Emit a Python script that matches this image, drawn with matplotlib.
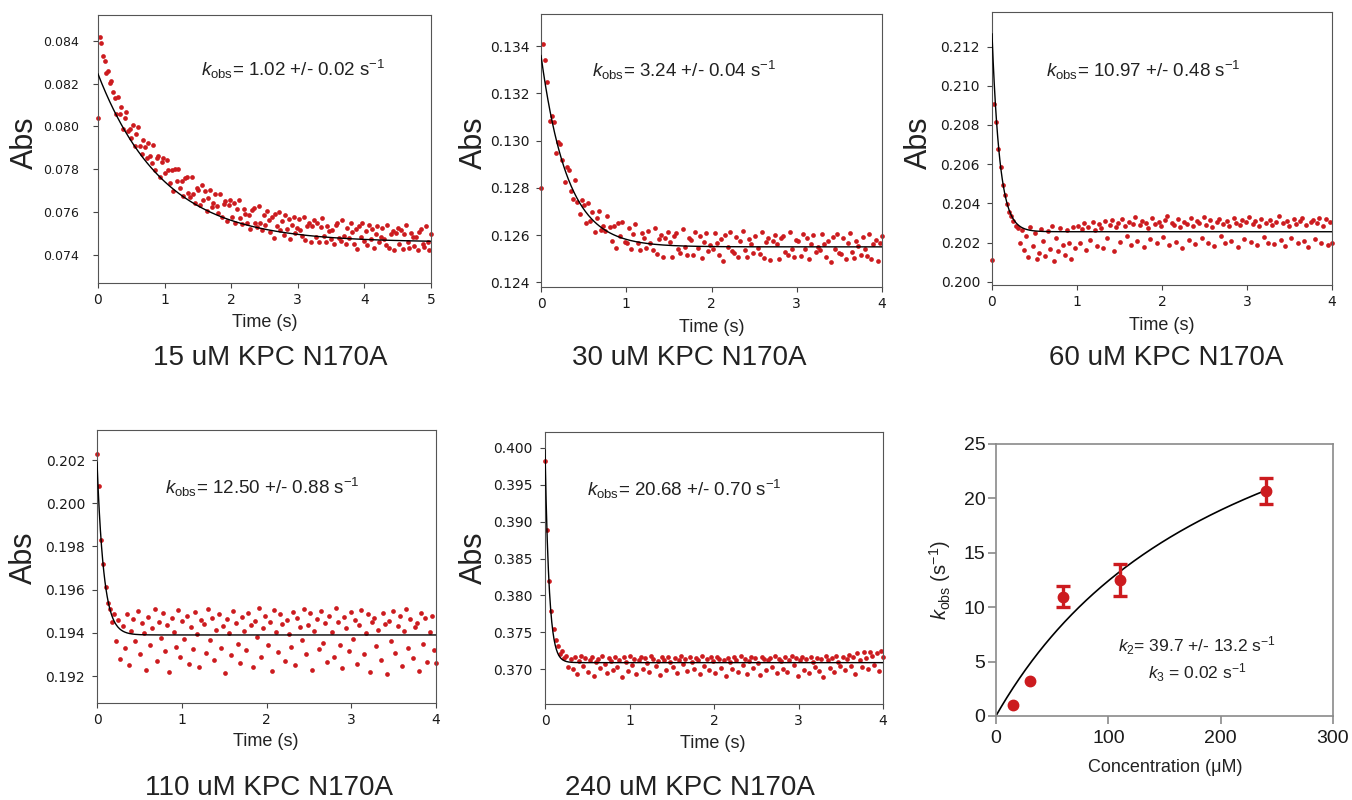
import numpy as np
import matplotlib
matplotlib.use('Agg')
import matplotlib.pyplot as plt
from matplotlib.ticker import FormatStrFormatter

W, H = 1352, 800
RED = '#cc1b1f'
SANS = 'Liberation Sans'

plt.rcParams['mathtext.fontset'] = 'custom'
plt.rcParams['mathtext.rm'] = SANS
plt.rcParams['mathtext.it'] = SANS + ':italic'
plt.rcParams['mathtext.bf'] = SANS + ':bold'

'''rate constants (one per trace) and secondary plot'''
conc = [15, 30, 60, 110, 240]             # uM
kobs = [1.02, 3.24, 10.97, 12.50, 20.68]  # s-1
kobs_err = [0.02, 0.04, 0.48, 0.88, 0.70]
bar_err = [0, 0, 0.98, 1.5, 1.15]         # error bars as drawn
k2, k2_err, k3, kd = 39.7, 13.2, 0.02, 220

'''stopped-flow traces'''
titles = ['15 uM KPC N170A', '30 uM KPC N170A', '60 uM KPC N170A',
          '110 uM KPC N170A', '240 uM KPC N170A']
t_end = [5, 4, 4, 4, 4]
base = [0.0746, 0.1255, 0.20255, 0.1939, 0.3709]   # Abs at end
amp = [0.00785, 0.0081, 0.0101, 0.0080, 0.0288]    # Abs change
yticks = [np.arange(0.074, 0.0841, 0.002), np.arange(0.124, 0.1341, 0.002),
          np.arange(0.200, 0.2121, 0.002), np.arange(0.192, 0.2021, 0.002),
          np.arange(0.370, 0.4001, 0.005)]
ylims = [(0.0727, 0.0852), (0.1238, 0.13536), (0.19983, 0.21377),
         (0.19075, 0.20339), (0.3653, 0.40213)]

# readings, 1e-5 Abs above the end value
dev1 = [580, 958, 930, 870, 845, 790, 800, 745, 750, 700,
        672, 596, 676, 598, 633, 529, 581, 607, 519, 529,
        488, 546, 448, 506, 539, 449, 411, 475, 444, 395,
        464, 404, 368, 453, 338, 394, 403, 304, 376, 394,
        321, 383, 336, 275, 337, 239, 342, 284, 342, 255,
        285, 217, 299, 304, 231, 212, 305, 225, 185, 254,
        243, 176, 266, 197, 241, 147, 208, 243, 165, 184,
        223, 168, 137, 226, 116, 178, 192, 97, 174, 197,
        116, 181, 91, 156, 197, 114, 84, 155, 132, 90,
        129, 64, 150, 158, 88, 73, 169, 92, 56, 128,
        81, 147, 105, 49, 116, 22, 130, 77, 139, 56,
        100, 36, 128, 62, 109, 17, 81, 119, 43, 65,
        109, 56, 27, 119, 11, 75, 91, -1, 78, 103,
        23, 90, 2, 69, 111, 31, 2, 75, 54, 14,
        55, -9, 79, 88, 19, 6, 103, 27, -7, 66,
        21, 88, 47, -8, 60, -33, 76, 24, 88, 6,
        51, -12, 81, 16, 63, -27, 37, 76, 1, 24,
        68, 16, -13, 80, -28, 37, 53, -38, 41, 67,
        -10, 58, -31, 37, 80, -1, -29, 45, 23, -16,
        26, -37, 50, 60, -8, -22, 76, 1, -34, 40]
dev2 = [250, 860, 790, 700, 534, 553, 528, 398, 442, 435,
        367, 276, 338, 325, 235, 201, 281, 188, 139, 198,
        179, 103, 186, 110, 149, 65, 121, 153, 72, 88,
        68, 131, 85, 26, 90, -6, 99, 45, 105, 22,
        15, 81, -10, 56, 97, 16, -14, 58, 36, -4,
        69, 15, -14, 78, -30, 35, 51, -41, 39, 64,
        22, -41, 47, 57, -11, -24, 74, -1, -35, 39,
        30, -33, 61, -4, 44, -46, 19, 58, -16, 7,
        -9, 59, 18, -36, 32, -60, 49, -2, 62, -19,
        -25, 43, -45, 23, 66, -14, -42, 32, 11, -28,
        48, -4, -32, 61, -46, 19, 36, -55, 25, 51,
        13, -50, 38, 48, -20, -33, 65, -10, -44, 30,
        23, -40, 54, -11, 37, -53, 12, 51, -23, 0,
        -15, 53, 12, -42, 26, -66, 43, -8, 56, -25,
        -31, 37, -51, 17, 60, -20, -48, 26, 5, -34,
        41, -11, -39, 54, -53, 12, 29, -62, 18, 44]
dev3 = [-145, 650, 560, 420, 330, 240, 190, 140, 100, 80, 55, 30,
        20, -60, 10, -95, -20, -130, 25, -75, -5, -140, -110, 15, -45, -125,
        5, -90, 30, -150, -30, -100, 20, -70, -120, 10, -55, -140, 25, -85,
        30, -60, 15, 45, -95, 25, -40, 50, 10, -75,
        40, 20, -85, 55, -30, 35, 60, -100, 25, 45,
        -50, 65, 30, -20, 50, -70, 40, 75, -45, 35,
        55, -80, 45, 20, -35, 70, 40, -60, 50, 30,
        -25, 60, 80, -70, 45, 35, -50, 65, 25, -85,
        50, 40, -40, 70, 30, -65, 55, 45, -30, 75,
        35, -55, 60, 25, -75, 50, 65, -20, 40, -60,
        55, 30, -45, 70, 45, -80, 35, 60, -35, 50,
        75, -50, 40, 55, -70, 30, 65, -25, 45, -55,
        60, 35, -65, 50, 80, -40, 45, -75, 55, 30,
        -30, 65, 40, -60, 55, 70, -45, 35, -80, 50,
        60, -35, 45, 70, -55, 30, 65, -70, 50, -60]
dev4 = [840, 690, 440, 330, 220, 150, 120, 60, 95, -30, 70, -110,
        40, -60, 95, -140, 20, 75, -30, 110,
        -90, 55, 10, -160, 85, -45, 30, 120, -120, 60,
        -15, 100, -75, 45, -170, 80, 15, -55, 115, -100,
        65, -20, 90, -135, 35, -65, 105, 5, -150, 70,
        50, -85, 120, -25, 80, -115, 25, 95, -60, 40,
        -175, 75, 10, -95, 110, 55, -40, -130, 85, 20,
        -70, 100, 45, -150, 65, -10, 125, -100, 30, 90,
        -45, 60, -165, 115, 15, -80, 95, 50, -120, 70,
        5, -55, 105, -140, 80, 35, -25, 120, -90, 45,
        100, -160, 20, 75, -65, 110, -35, 55, -125, 90,
        15, -100, 125, 60, -45, -155, 85, 30, -75, 105,
        -20, 70, -135, 45, 115, -90, 10, 95, -170, 60,
        80, -50, 25, -115, 100, 50, -180, 65, -30, 110,
        -85, 40, 90, -145, 20, 120, -60, 75, -105, 35,
        55, -165, 100, -40, 80, -125, 15, 90, -70, -130]
dev5 = [2730, 1800, 1100, 700, 450, 300, 230, 120, 160, 60, 90, -60,
        50, -90, 70, -150, 20, 85, -40, 60,
        -120, 35, 75, -180, 10, 55, -70, 90, -20, -140,
        65, 25, -100, 80, -60, 40, -190, 70, 15, -110,
        85, -30, 50, -155, 30, 75, -80, 60, -10, -130,
        90, 45, -50, 20, -170, 70, 35, -95, 80, 5,
        -60, 65, -140, 40, 95, -25, 55, -115, 75, 10,
        -85, 60, 30, -160, 85, -45, 45, -105, 70, 20,
        -135, 80, 50, -70, 35, -185, 65, 15, -90, 75,
        40, -120, 90, -35, 55, -150, 25, 70, -75, 60,
        -10, -165, 80, 45, -100, 30, 65, -55, 85, -140,
        50, 20, -80, 75, -125, 40, 90, -30, 60, -175,
        35, 70, -95, 55, -145, 80, 15, -60, 65, -110,
        45, -195, 85, 30, -75, 60, -130, 95, 10, -50,
        80, -100, 55, 110, -40, 70, -150, 125, 40, -65,
        140, 60, -80, 150, 95, -30, 130, -110, 160, 75]
devs = [dev1, dev2, dev3, dev4, dev5]

'''layout in pixels: axes box (l, t, r, b), label centres'''
boxes = [(98, 15, 431, 283), (541, 14, 882, 287), (992, 12, 1332, 285),
         (97, 430, 436, 703), (545, 432, 883, 704)]
abs_xy = [(25, 143), (474, 143), (919, 143), (24, 558), (474, 558)]
time_xy = [(265, 322), (712, 328), (1162, 325), (266, 742), (713, 743)]
title_xy = [(270, 358), (689, 358), (1166, 358), (269, 788), (690, 788)]
kobs_xy = [(0.31, 0.795), (0.15, 0.795), (0.16, 0.787), (0.20, 0.79), (0.124, 0.79)]
ylab_size = [9, 10, 10, 10, 10]
ylab_pad = [10, 4.5, 5, 5, 5.5]

fig = plt.figure(figsize=(W / 100, H / 100), dpi=100)


def add_ax(box):
    l, t, r, b = box
    return fig.add_axes([l / W, 1 - b / H, (r - l) / W, (b - t) / H])


for i in range(5):
    ax = add_ax(boxes[i])
    y = base[i] + np.array(devs[i]) * 1e-5
    t = np.linspace(0, t_end[i], len(y))
    ax.plot(t, y, 'o', ms=3.4, mew=0, color=RED, clip_on=False, zorder=2)
    tt = np.linspace(0, t_end[i], 600)
    ax.plot(tt, base[i] + amp[i] * np.exp(-kobs[i] * tt), color='k', lw=1.0, zorder=3)
    ax.set_xlim(0, t_end[i])
    ax.set_ylim(*ylims[i])
    ax.set_xticks(range(t_end[i] + 1))
    ax.set_yticks(yticks[i])
    ax.yaxis.set_major_formatter(FormatStrFormatter('%.3f'))
    ax.tick_params(direction='out', length=3.6, width=0.8, color='#444444',
                   labelcolor='#1a1a1a', labelsize=10)
    ax.tick_params(axis='y', labelsize=ylab_size[i], pad=ylab_pad[i])
    for s in ax.spines.values():
        s.set_color('#555555')
        s.set_linewidth(0.8)
    ax.text(kobs_xy[i][0], kobs_xy[i][1],
            r'$k_{\rm obs}$= %.2f +/- %.2f s$^{-1}$' % (kobs[i], kobs_err[i]),
            transform=ax.transAxes, fontsize=13.5, family=SANS, color='#222222',
            va='center', ha='left')
    fig.text(abs_xy[i][0] / W, 1 - abs_xy[i][1] / H, 'Abs', rotation=90,
             fontsize=22, family=SANS, ha='center', va='center', color='#222222')
    fig.text(time_xy[i][0] / W, 1 - time_xy[i][1] / H, 'Time (s)',
             fontsize=13, family=SANS, ha='center', va='center', color='#222222')
    fig.text(title_xy[i][0] / W, 1 - title_xy[i][1] / H, titles[i],
             fontsize=20, family=SANS, ha='center', va='center', color='#222222')

'''kobs vs concentration'''
ax6 = add_ax((996, 444, 1333, 716))
cc = np.linspace(0, conc[-1], 300)
ax6.plot(cc, k2 * cc / (kd + cc) + k3, color='k', lw=1.2, zorder=2)
ax6.plot(conc, kobs, 'o', ms=7.5, color=RED, zorder=3)
idx = [j for j in range(len(conc)) if bar_err[j] > 0]
ax6.errorbar([conc[j] for j in idx], [kobs[j] for j in idx],
             yerr=[bar_err[j] for j in idx], fmt='none', ecolor=RED,
             elinewidth=2.4, capsize=4.8, capthick=2.4, zorder=3)
ax6.set_xlim(0, 300)
ax6.set_ylim(0, 25)
ax6.set_xticks([0, 100, 200, 300])
ax6.set_yticks([0, 5, 10, 15, 20, 25])
ax6.tick_params(direction='out', length=6, width=1.2, color='#8a8a8a',
                labelsize=14, labelcolor='#1a1a1a')
ax6.tick_params(axis='y', pad=1.5)
ax6.tick_params(axis='x', pad=4)
for lab in ax6.get_xticklabels() + ax6.get_yticklabels():
    lab.set_family(SANS)
for s in ax6.spines.values():
    s.set_color('#8a8a8a')
    s.set_linewidth(1.2)
ax6.text(179, 6.5, r'$k_2$= %.1f +/- %.1f s$^{-1}$' % (k2, k2_err),
         fontsize=12.5, family=SANS, ha='center', va='center', color='#222222')
ax6.text(179, 4.0, r'$k_3$ = %.2f s$^{-1}$' % k3,
         fontsize=12.5, family=SANS, ha='center', va='center', color='#222222')
fig.text(940 / W, 1 - 580 / H, r'$k_{\rm obs}$ (s$^{-1}$)', rotation=90,
         fontsize=14.5, family=SANS, ha='center', va='center', color='#222222')
fig.text(1165 / W, 1 - 768 / H, 'Concentration (\u03bcM)',
         fontsize=13, family=SANS, ha='center', va='center', color='#222222')

fig.savefig('out.png', dpi=100)
